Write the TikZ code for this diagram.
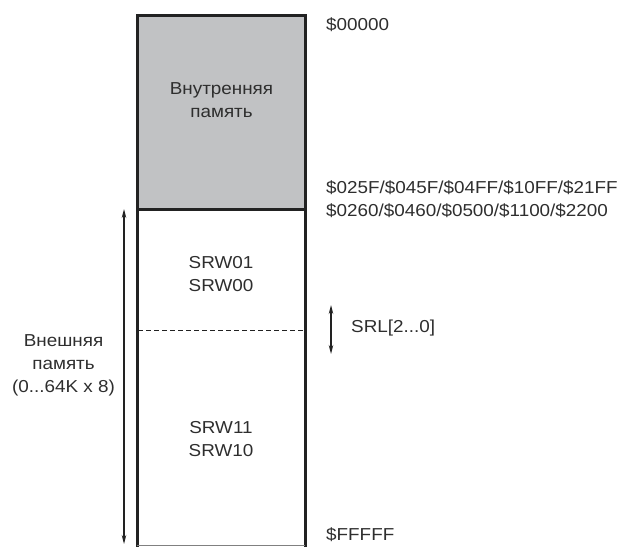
\documentclass[tikz,border=0pt]{standalone}
\usepackage{fontspec}
\setmainfont[FakeStretch=1.09]{Liberation Sans}
\usetikzlibrary{arrows.meta}
\definecolor{txt}{HTML}{2E2E2E}
\definecolor{ln}{HTML}{222222}
\definecolor{fillg}{HTML}{C1C2C4}
\begin{document}
\begin{tikzpicture}[x=1pt,y=-1pt,
  lbl/.style={font=\fontsize{17.3}{23}\selectfont, text=txt, align=center, inner sep=0pt},
  addr/.style={font=\fontsize{17.3}{23}\selectfont, text=txt, align=left, anchor=west, inner sep=0pt},
  boxline/.style={draw=ln, line width=3pt},
  dimarrow/.style={draw=ln, line width=1.2pt, {Stealth[length=9pt,width=4.5pt]}-{Stealth[length=9pt,width=4.5pt]}}]
\useasboundingbox (0,0) rectangle (623,546);
% internal memory
\fill[fillg] (137,15) rectangle (305,209);
\draw[boxline] (137,560) -- (137,15) -- (305,15) -- (305,560);
\draw[boxline] (137,209) -- (305,209);
\draw[draw=ln, line width=1pt, dash pattern=on 5pt off 3pt] (138,330) -- (304,330);
\draw[draw=gray, line width=0.8pt] (137,545.5) -- (305,545.5);
% texts in box
\node[lbl] (int) at (221.5,100) {Внутренняя\\память};
\node[lbl] (srw0) at (221,274) {SRW01\\SRW00};
\node[lbl] (srw1) at (221,439) {SRW11\\SRW10};
% addresses
\node[addr] (a0) at (326,25) {\$00000};
\node[addr] (a1) at (326,199.5) {\$025F/\$045F/\$04FF/\$10FF/\$21FF\\\$0260/\$0460/\$0500/\$1100/\$2200};
\node[addr] (srl) at (351,328) {SRL[2...0]};
\node[addr] (af) at (326,535) {\$FFFFF};
% srl arrow
\coordinate (s1) at (331,305);
\coordinate (s2) at (331,354);
\draw[dimarrow] (s1) -- (s2);
% external arrow
\coordinate (e1) at (124,209);
\coordinate (e2) at (124,544);
\draw[dimarrow] (e1) -- (e2);
\node[lbl] (ext) at (63.5,365) {Внешняя\\память\\(0...64K x 8)};
\end{tikzpicture}
\end{document}
